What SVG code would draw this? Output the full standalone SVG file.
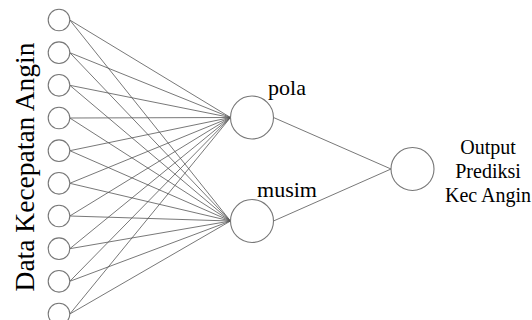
<svg xmlns="http://www.w3.org/2000/svg" width="532" height="320" viewBox="0 0 532 320">
  <style>
    .edge { stroke: #555; stroke-width: 0.8; fill: none; }
    .node { fill: #fff; stroke: #777; stroke-width: 1.1; }
    .lbl { font-family: "Liberation Serif", "Times New Roman", serif; fill: #000; }
  </style>
  <rect width="532" height="320" fill="#fff"/>

  <!-- connectors: each input feeds both hidden nodes; edges meet at the node rims -->
  <g id="connectors">
    <path class="edge" d="M69.8,20L230.5,117.5M69.8,52.7L230.5,117.5M69.8,85.3L230.5,117.5M69.8,118L230.5,117.5M69.8,150.7L230.5,117.5M69.8,183.3L230.5,117.5M69.8,216L230.5,117.5M69.8,248.7L230.5,117.5M69.8,281.3L230.5,117.5M69.8,314L230.5,117.5"/>
    <path class="edge" d="M69.8,20L230.5,221M69.8,52.7L230.5,221M69.8,85.3L230.5,221M69.8,118L230.5,221M69.8,150.7L230.5,221M69.8,183.3L230.5,221M69.8,216L230.5,221M69.8,248.7L230.5,221M69.8,281.3L230.5,221M69.8,314L230.5,221"/>
    <path class="edge" d="M273.5,117.5L391,169M273.5,221L391,169"/>
  </g>

  <!-- input layer -->
  <g id="inputs">
    <circle id="in1" class="node" cx="59" cy="20" r="10.8"/>
    <circle id="in2" class="node" cx="59" cy="52.7" r="10.8"/>
    <circle id="in3" class="node" cx="59" cy="85.3" r="10.8"/>
    <circle id="in4" class="node" cx="59" cy="118" r="10.8"/>
    <circle id="in5" class="node" cx="59" cy="150.7" r="10.8"/>
    <circle id="in6" class="node" cx="59" cy="183.3" r="10.8"/>
    <circle id="in7" class="node" cx="59" cy="216" r="10.8"/>
    <circle id="in8" class="node" cx="59" cy="248.7" r="10.8"/>
    <circle id="in9" class="node" cx="59" cy="281.3" r="10.8"/>
    <circle id="in10" class="node" cx="59" cy="314" r="10.8"/>
    <text class="lbl" font-size="27.5" text-anchor="middle" transform="translate(34,167) rotate(-90)">Data Kecepatan Angin</text>
  </g>

  <!-- hidden layer -->
  <g id="pola">
    <circle class="node" cx="252" cy="117.5" r="21.5"/>
    <text class="lbl" font-size="22" text-anchor="middle" x="287" y="95">pola</text>
  </g>
  <g id="musim">
    <circle class="node" cx="252" cy="221" r="21.5"/>
    <text class="lbl" font-size="22" text-anchor="middle" x="287" y="197">musim</text>
  </g>

  <!-- output -->
  <g id="output">
    <circle class="node" cx="412.5" cy="169" r="21.5"/>
    <text class="lbl" font-size="20" text-anchor="middle" x="488" y="154">Output</text>
    <text class="lbl" font-size="20" text-anchor="middle" x="488" y="178">Prediksi</text>
    <text class="lbl" font-size="20" text-anchor="middle" x="488" y="202">Kec Angin</text>
  </g>
</svg>
